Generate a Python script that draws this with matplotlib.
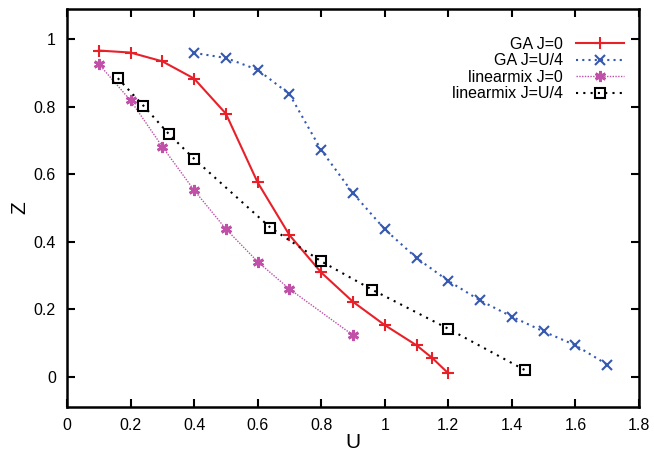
import matplotlib
matplotlib.use("Agg")
import matplotlib.pyplot as plt

plt.rcParams['font.family'] = ['Liberation Sans', 'DejaVu Sans']

ga_j0_u = [0.1, 0.2, 0.3, 0.4, 0.5, 0.6, 0.7, 0.8, 0.9, 1.0, 1.1, 1.15, 1.2]
ga_j0_z = [0.967, 0.961, 0.935, 0.884, 0.78, 0.576, 0.42, 0.309, 0.222, 0.153, 0.093, 0.055, 0.01]

ga_j4_u = [0.4, 0.5, 0.6, 0.7, 0.8, 0.9, 1.0, 1.1, 1.2, 1.3, 1.4, 1.5, 1.6, 1.7]
ga_j4_z = [0.96, 0.945, 0.91, 0.838, 0.672, 0.544, 0.437, 0.352, 0.284, 0.226, 0.178, 0.134, 0.093, 0.036]

lm_j0_u = [0.1, 0.2, 0.3, 0.4, 0.5, 0.6, 0.7, 0.9]
lm_j0_z = [0.927, 0.819, 0.682, 0.553, 0.438, 0.341, 0.26, 0.123]

lm_j4_u = [0.16, 0.24, 0.32, 0.40, 0.64, 0.80, 0.96, 1.20, 1.44]
lm_j4_z = [0.885, 0.804, 0.72, 0.646, 0.442, 0.342, 0.258, 0.142, 0.02]

labels = ["GA J=0", "GA J=U/4", "linearmix J=0", "linearmix J=U/4"]
xticks = [0, 0.2, 0.4, 0.6, 0.8, 1.0, 1.2, 1.4, 1.6, 1.8]
xticklabels = ["0", "0.2", "0.4", "0.6", "0.8", "1", "1.2", "1.4", "1.6", "1.8"]
yticks = [0, 0.2, 0.4, 0.6, 0.8, 1.0]
yticklabels = ["0", "0.2", "0.4", "0.6", "0.8", "1"]

fig = plt.figure(figsize=(6.54, 4.53), dpi=100)
ax = fig.add_axes([0.1024, 0.1015, 0.8746, 0.8785])

ax.plot(ga_j0_u, ga_j0_z, color='#e8202a', lw=1.5, ls='-', marker='+', ms=8, mew=1.5, label=labels[0])
ax.plot(ga_j4_u, ga_j4_z, color='#3558b0', lw=1.5, ls=(0, (1, 2)), marker='x', ms=7, mew=1.5, label=labels[1])
ax.plot(lm_j0_u, lm_j0_z, color='#c050a8', lw=1.0, ls=(0, (1, 1)), marker=(6, 2, 0), ms=8, mew=2, label=labels[2])
ax.plot(lm_j4_u, lm_j4_z, color='black', lw=1.5, ls=(0, (1, 2.5)), marker='s', ms=7, mew=1.5,
        mfc='none', label=labels[3])

ax.set_xlim(0, 1.8)
ax.set_ylim(-0.09, 1.09)
ax.set_xticks(xticks)
ax.set_xticklabels(xticklabels)
ax.set_yticks(yticks)
ax.set_yticklabels(yticklabels)
ax.tick_params(direction='in', length=6, width=1.5, top=True, right=True, labelsize=11.5, pad=8)
for s in ax.spines.values():
    s.set_linewidth(1.8)

ax.set_xlabel('U', fontsize=15, labelpad=0)
ax.set_ylabel('Z', fontsize=15, labelpad=3)

leg = ax.legend(loc='upper right', frameon=False, markerfirst=False, fontsize=11.5,
                handlelength=3.0, handletextpad=0.8, labelspacing=0.1,
                bbox_to_anchor=(0.99, 0.955), borderaxespad=0.2)
for t in leg.get_texts():
    t.set_ha('right')
leg._legend_box.align = 'right'

fig.savefig('out.png', dpi=100)
